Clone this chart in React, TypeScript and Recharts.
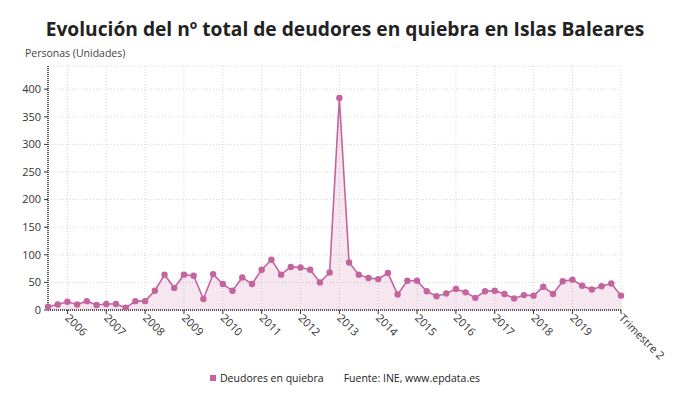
import React from 'react'
import { AreaChart, Area, XAxis, YAxis, CartesianGrid } from 'recharts'

const QUARTERS = [
  '2005-T3', '2005-T4',
  '2006-T1', '2006-T2', '2006-T3', '2006-T4',
  '2007-T1', '2007-T2', '2007-T3', '2007-T4',
  '2008-T1', '2008-T2', '2008-T3', '2008-T4',
  '2009-T1', '2009-T2', '2009-T3', '2009-T4',
  '2010-T1', '2010-T2', '2010-T3', '2010-T4',
  '2011-T1', '2011-T2', '2011-T3', '2011-T4',
  '2012-T1', '2012-T2', '2012-T3', '2012-T4',
  '2013-T1', '2013-T2', '2013-T3', '2013-T4',
  '2014-T1', '2014-T2', '2014-T3', '2014-T4',
  '2015-T1', '2015-T2', '2015-T3', '2015-T4',
  '2016-T1', '2016-T2', '2016-T3', '2016-T4',
  '2017-T1', '2017-T2', '2017-T3', '2017-T4',
  '2018-T1', '2018-T2', '2018-T3', '2018-T4',
  '2019-T1', '2019-T2', '2019-T3', '2019-T4',
  '2020-T1', '2020-T2',
]

const DEUDORES = [
  6, 10,
  15, 10, 16, 9,
  11, 11, 4, 16,
  16, 35, 64, 40,
  64, 62, 20, 65,
  47, 35, 59, 47,
  73, 91, 64, 78,
  77, 73, 50, 68,
  384, 86, 64, 58,
  56, 67, 28, 53,
  53, 34, 25, 30,
  38, 32, 22, 34,
  35, 29, 21, 27,
  26, 42, 29, 52,
  55, 44, 37, 43,
  48, 26,
]

// which categories get a label, and what it says
const TICK_KEYS = [
  '2006-T1', '2007-T1', '2008-T1', '2009-T1', '2010-T1', '2011-T1', '2012-T1',
  '2013-T1', '2014-T1', '2015-T1', '2016-T1', '2017-T1', '2018-T1', '2019-T1', '2020-T2',
]
const TICK_LABELS = [
  '2006', '2007', '2008', '2009', '2010', '2011', '2012',
  '2013', '2014', '2015', '2016', '2017', '2018', '2019', 'Trimestre 2',
]
const Y_TICKS = [0, 50, 100, 150, 200, 250, 300, 350, 400]

const LINE = '#c4649f'
const FONT = '"Open Sans", "Noto Sans", sans-serif'

const data = QUARTERS.map((q, i) => ({ q, value: DEUDORES[i] }))

function XTick({ x, y, payload }: any) {
  const idx = TICK_KEYS.indexOf(payload.value)
  return (
    <text
      x={x}
      y={y}
      dy={4}
      transform={`rotate(45 ${x} ${y})`}
      textAnchor="start"
      fontSize={11}
      fill="#333"
      fontFamily={FONT}
    >
      {TICK_LABELS[idx]}
    </text>
  )
}

export default function App() {
  return (
    <div style={{ position: 'absolute', left: 0, top: 0, width: 690, height: 406, background: '#fff', fontFamily: FONT }}>
      <div style={{ position: 'absolute', top: 15, left: 0, width: 690, textAlign: 'center', fontSize: 19.2, fontWeight: 700, color: '#222' }}>
        Evolución del nº total de deudores en quiebra en Islas Baleares
      </div>
      <div style={{ position: 'absolute', top: 46, left: 25, fontSize: 10.5, color: '#444' }}>
        Personas (Unidades)
      </div>
      <AreaChart width={690} height={406} data={data} margin={{ top: 66, right: 69, left: 8, bottom: 66 }}>
        <CartesianGrid stroke="#d4d4d4" strokeDasharray="1 2" />
        <XAxis
          dataKey="q"
          height={30}
          ticks={TICK_KEYS}
          interval={0}
          tick={<XTick />}
          tickSize={4}
          tickLine={{ stroke: '#333' }}
          axisLine={{ stroke: '#222', strokeDasharray: '1 1', strokeWidth: 1.5 }}
        />
        <YAxis
          width={40}
          domain={[0, 442]}
          ticks={Y_TICKS}
          allowDataOverflow
          tickSize={4}
          tickMargin={3}
          tickLine={{ stroke: '#333' }}
          axisLine={{ stroke: '#222', strokeDasharray: '1 1', strokeWidth: 1.5 }}
          tick={{ fontSize: 11, fill: '#333', fontFamily: FONT }}
        />
        <Area
          type="linear"
          dataKey="value"
          stroke={LINE}
          strokeWidth={1.6}
          fill={LINE}
          fillOpacity={0.16}
          dot={{ r: 3.2, fill: LINE, stroke: 'none', fillOpacity: 1 }}
          activeDot={false}
          isAnimationActive={false}
        />
      </AreaChart>
      <div style={{ position: 'absolute', top: 371, left: 210, fontSize: 10.5, color: '#222', display: 'flex', alignItems: 'center' }}>
        <span style={{ display: 'inline-block', width: 6, height: 6, background: LINE, marginRight: 4 }} />
        <span>Deudores en quiebra</span>
        <span style={{ marginLeft: 20 }}>Fuente: INE, www.epdata.es</span>
      </div>
    </div>
  )
}
